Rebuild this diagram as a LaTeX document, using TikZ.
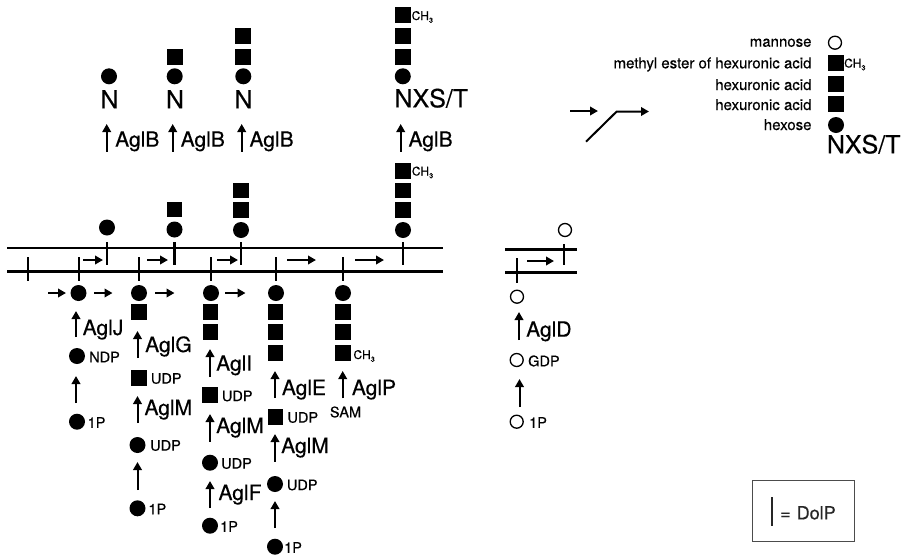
\documentclass[tikz,border=0pt]{standalone}
\usepackage{fontspec}
\setmainfont{TeX Gyre Heros}[FakeBold=0.35]
\usetikzlibrary{arrows.meta}
\newcommand{\methyl}{CH\raisebox{-0.45ex}{\fontsize{7.5}{7.5}\selectfont 3}}
\begin{document}
\begin{tikzpicture}[x=1pt,y=-1pt,
  hex/.style={circle, fill=black, inner sep=0pt, minimum size=16pt},
  uro/.style={rectangle, fill=black, inner sep=0pt, minimum size=15.8pt},
  man/.style={circle, draw=black, line width=1.3pt, inner sep=0pt, minimum size=13pt},
  rxn/.style={line width=2pt, -{Triangle[length=8pt,width=8.5pt]}},
  enz/.style={anchor=base west, inner sep=0pt, font=\fontsize{21}{21}\selectfont},
  donor/.style={anchor=west, inner sep=0pt, font=\fontsize{14.5}{14.5}\selectfont},
  asn/.style={anchor=base, inner sep=0pt, font=\fontsize{25}{25}\selectfont},
  me/.style={anchor=base west, inner sep=0pt, font=\fontsize{12}{12}\selectfont},
  legtext/.style={anchor=base east, inner sep=0pt, font=\fontsize{15}{15}\selectfont},
  memb/.style={line width=2.5pt},
  lipid/.style={line width=2.4pt}]
\useasboundingbox (0,0) rectangle (906,555);

% ---------- N-glycosylated products (S-layer glycoprotein) ----------
\node[hex] (pA0) at (109,76.3) {};
\node[asn] (nA) at (109.5,108.3) {N};
\node[uro] (pB1) at (174.7,57) {};
\node[hex] (pB0) at (174.7,76.3) {};
\node[asn] (nB) at (175,108.3) {N};
\node[uro] (pC2) at (243.3,36) {};
\node[uro] (pC1) at (243.3,57) {};
\node[hex] (pC0) at (243.3,76.3) {};
\node[asn] (nC) at (243.5,108.3) {N};
\node[uro] (pD3) at (402.8,15.3) {};
\node[uro] (pD2) at (402.8,36) {};
\node[uro] (pD1) at (402.8,57) {};
\node[hex] (pD0) at (402.8,76.3) {};
\node[me] (pDm) at (411.5,20) {\methyl};
\node[asn, anchor=base west] (nD) at (394.3,107.3) {NXS/T};

% AglB transfer steps
\foreach \n/\x/\t in {a/106.7/115, b/172.7/180.5, c/241.7/249.3, d/400.7/408.3}{
  \coordinate (b\n s) at (\x,151.7);
  \coordinate (b\n e) at (\x,124);
  \draw[rxn] (b\n s) -- (b\n e);
  \node[enz] (lb\n) at (\t,146.7) {AglB};
}

% ---------- membrane ----------
\draw[memb] (7,248) -- (443,248);
\draw[memb] (7,271.5) -- (443,271.5);
\foreach \x in {28,79,139,211,276,343}{ \draw[lipid] (\x,257) -- (\x,280.5); }
\foreach \x in {107,174.5,241,403}{ \draw[lipid] (\x,242) -- (\x,264.5); }

% flipped lipid-linked glycans (outer face)
\node[hex] (mA0) at (107,227.5) {};
\node[uro] (mB1) at (174.5,209.5) {};
\node[hex] (mB0) at (174.5,229.5) {};
\node[uro] (mC2) at (241,190.5) {};
\node[uro] (mC1) at (241,210) {};
\node[hex] (mC0) at (241,230) {};
\node[uro] (mD3) at (403,171) {};
\node[uro] (mD2) at (403,190.5) {};
\node[uro] (mD1) at (403,210) {};
\node[hex] (mD0) at (403,230) {};
\node[me] (mDm) at (411.7,175.5) {\methyl};

% translocation arrows inside the membrane
\foreach \n/\a/\b in {1/83/103, 2/147.3/168, 3/217/238, 4/287/316, 5/355/384}{
  \coordinate (f\n s) at (\a,260);
  \coordinate (f\n e) at (\b,260);
  \draw[rxn] (f\n s) -- (f\n e);
}

% ---------- cytoplasmic assembly ----------
\node[hex] (k1) at (78.5,293) {};
\node[hex] (k2) at (139,293) {};
\node[hex] (k3) at (211,293) {};
\node[hex] (k4) at (276,293) {};
\node[hex] (k5) at (343,293) {};
\foreach \n/\a/\b in {1/48/66, 2/94/112.5, 3/155/174.5, 4/225/245.5}{
  \coordinate (g\n s) at (\a,293);
  \coordinate (g\n e) at (\b,293);
  \draw[rxn] (g\n s) -- (g\n e);
}

% column 1
\node[hex] (c1n) at (77,356) {};
\node[donor] (c1nt) at (89,357) {NDP};
\node[hex] (c1p) at (77,421.7) {};
\node[donor] (c1pt) at (87.5,422.5) {1P};
\node[enz] (e1) at (82.5,335) {AglJ};

% column 2
\node[uro] (c2a) at (139,312.3) {};
\node[uro] (c2u) at (139,377.7) {};
\node[donor] (c2ut) at (150.7,378.5) {UDP};
\node[hex] (c2h) at (137.5,445) {};
\node[donor] (c2ht) at (150,445.5) {UDP};
\node[hex] (c2p) at (137.5,508.3) {};
\node[donor] (c2pt) at (148.3,509) {1P};
\node[enz] (e2) at (145,352) {AglG};
\node[enz] (e3) at (144.3,415) {AglM};

% column 3
\node[uro] (c3a) at (210.5,312.3) {};
\node[uro] (c3b) at (210.5,332.3) {};
\node[uro] (c3u) at (210,395) {};
\node[donor] (c3ut) at (221.7,396) {UDP};
\node[hex] (c3h) at (210,462.7) {};
\node[donor] (c3ht) at (221,463.5) {UDP};
\node[hex] (c3p) at (210,525.7) {};
\node[donor] (c3pt) at (220,526.5) {1P};
\node[enz] (e4) at (216,370.7) {AglI};
\node[enz] (e5) at (216,433) {AglM};
\node[enz] (e6) at (218.3,500) {AglF};

% column 4
\node[uro] (c4a) at (275.5,312.3) {};
\node[uro] (c4b) at (275.5,332.3) {};
\node[uro] (c4c) at (275.5,352.7) {};
\node[uro] (c4u) at (275.5,416.7) {};
\node[donor] (c4ut) at (287.3,417.5) {UDP};
\node[hex] (c4h) at (275,484) {};
\node[donor] (c4ht) at (286.7,485) {UDP};
\node[hex] (c4p) at (275,546.7) {};
\node[donor] (c4pt) at (284,547.5) {1P};
\node[enz] (e7) at (281.7,395) {AglE};
\node[enz] (e8) at (281,453) {AglM};

% column 5
\node[uro] (c5a) at (343,312.3) {};
\node[uro] (c5b) at (343,332.3) {};
\node[uro] (c5c) at (343,352.7) {};
\node[me] (c5m) at (353.3,359) {\methyl};
\node[enz] (e9) at (351.7,395) {AglP};
\node[donor, anchor=base] (sam) at (345.5,417.3) {SAM};

% vertical reaction arrows of the cytoplasmic columns
\foreach \n/\x/\a/\b in {
  1/76/337/311, 2/76/403/376,
  3/137.5/358/331, 4/137.5/423/396, 5/137.5/490/462,
  6/210/377/349, 7/210/441.7/414, 8/210/508/481,
  9/275/398/371, 10/275/461.7/434, 11/275/528/501,
  12/342.7/398.3/371}{
  \coordinate (v\n s) at (\x,\a);
  \coordinate (v\n e) at (\x,\b);
  \draw[rxn] (v\n s) -- (v\n e);
}

% ---------- mannose branch ----------
\draw[memb] (505,249.5) -- (577,249.5);
\draw[memb] (505,272.5) -- (577,272.5);
\draw[lipid] (517,258) -- (517,283);
\draw[lipid] (564,244) -- (564,265);
\coordinate (hs) at (527,261);
\coordinate (he) at (554,261);
\draw[rxn] (hs) -- (he);
\node[man] (d0) at (565,230) {};
\node[man] (d1) at (517,296.7) {};
\node[man] (d2) at (516.7,360) {};
\node[donor] (d2t) at (528,361) {GDP};
\node[man] (d3) at (516.7,421.7) {};
\node[donor] (d3t) at (529,422.5) {1P};
\coordinate (v13s) at (519,340);
\coordinate (v13e) at (519,312);
\draw[rxn] (v13s) -- (v13e);
\node[enz] (e10) at (526,336.7) {AglD};
\coordinate (v14s) at (519.5,407);
\coordinate (v14e) at (519.5,379);
\draw[rxn] (v14s) -- (v14e);

% ---------- key ----------
\coordinate (ka) at (570,111);
\coordinate (kb) at (598,111);
\draw[rxn] (ka) -- (kb);
\coordinate (kc) at (586,141.7);
\coordinate (kd) at (616.7,111.5);
\coordinate (ke) at (649,111.5);
\draw[rxn] (kc) -- (kd) -- (ke);

\node[man] (s0) at (835,42.7) {};
\node[uro] (s1) at (836,62.7) {};
\node[me] (s1m) at (844,67.5) {\methyl};
\node[uro] (s2) at (836,84) {};
\node[uro] (s3) at (836,104.3) {};
\node[hex] (s4) at (836,125) {};
\node[asn, anchor=base west] (sN) at (826.7,153.3) {NXS/T};
\node[legtext] (t0) at (811.7,46.7) {mannose};
\node[legtext] (t1) at (811.7,68.3) {methyl ester of hexuronic acid};
\node[legtext] (t2) at (811.7,90) {hexuronic acid};
\node[legtext] (t3) at (811.7,110) {hexuronic acid};
\node[legtext] (t4) at (811.7,130) {hexose};

% lipid carrier key
\node[draw=black!70, line width=1pt, minimum width=101.7pt, minimum height=61pt, inner sep=0pt] (box) at (803.2,510.5) {};
\draw[lipid, black!85] (771.7,497) -- (771.7,526);
\node[anchor=base west, inner sep=0pt, text=black!85, font=\fontsize{18}{18}\selectfont] (dolp) at (780,519.3) {=\hspace{6pt}DolP};
\end{tikzpicture}
\end{document}
